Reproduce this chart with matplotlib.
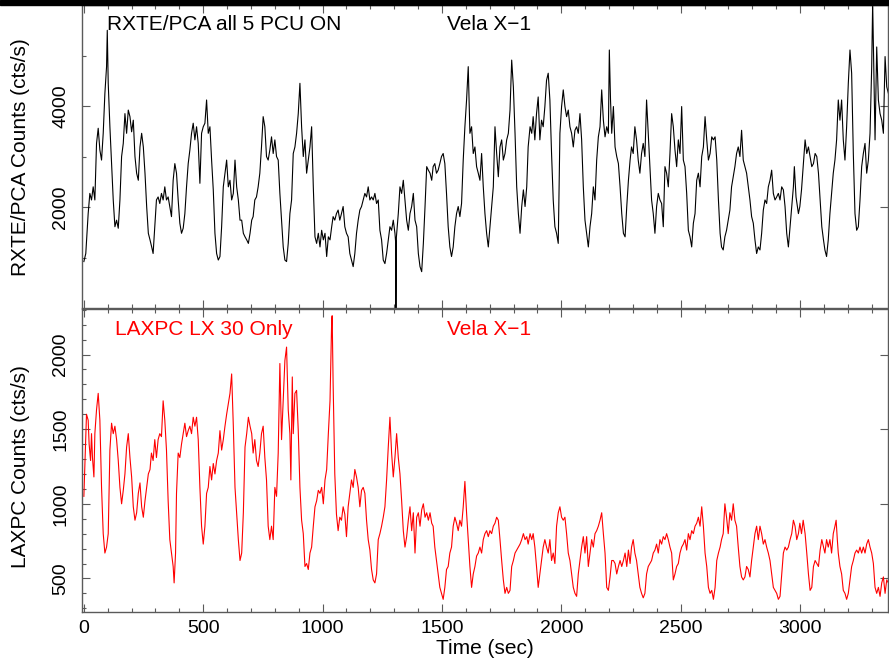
import matplotlib
matplotlib.use("Agg")
import matplotlib.pyplot as plt
from matplotlib.patches import Rectangle
from matplotlib.ticker import MultipleLocator, FixedLocator

plt.rcParams['font.family'] = ['Liberation Sans', 'DejaVu Sans']

# RXTE/PCA light curve (time in s, counts/s)
t_pca = [0, 8, 18, 25, 32, 39, 46, 53, 60, 67,
         74, 81, 88, 95, 98, 102, 109, 116, 123, 130,
         137, 144, 151, 158, 165, 172, 179, 186, 193, 200,
         207, 214, 221, 228, 235, 242, 249, 256, 263, 270,
         277, 284, 290, 297, 304, 311, 318, 325, 332, 339,
         346, 353, 360, 367, 374, 381, 388, 395, 402, 409,
         416, 423, 430, 437, 444, 451, 458, 465, 472, 479,
         486, 493, 500, 507, 514, 521, 528, 535, 542, 549,
         556, 563, 570, 577, 584, 591, 598, 605, 612, 619,
         626, 633, 640, 647, 654, 661, 668, 675, 682, 689,
         696, 703, 709, 716, 723, 730, 737, 744, 751, 758,
         765, 772, 779, 786, 793, 800, 807, 814, 821, 828,
         835, 842, 849, 856, 863, 870, 877, 884, 891, 898,
         905, 912, 919, 926, 933, 940, 947, 954, 961, 968,
         975, 982, 989, 996, 1003, 1010, 1017, 1024, 1031, 1038,
         1044, 1051, 1058, 1065, 1072, 1079, 1086, 1093, 1100, 1107,
         1114, 1121, 1128, 1135, 1142, 1149, 1156, 1163, 1170, 1177,
         1184, 1191, 1198, 1205, 1212, 1219, 1226, 1233, 1240, 1247,
         1254, 1261, 1268, 1275, 1282, 1289, 1296, 1303, 1306, 1307, 1309, 1317,
         1324, 1331, 1338, 1345, 1352, 1359, 1366, 1373, 1380, 1387,
         1394, 1401, 1408, 1415, 1422, 1429, 1436, 1443, 1450, 1457,
         1463, 1470, 1477, 1484, 1491, 1498, 1505, 1512, 1519, 1526,
         1533, 1540, 1547, 1554, 1561, 1568, 1575, 1582, 1589, 1596,
         1603, 1610, 1617, 1624, 1631, 1638, 1645, 1652, 1659, 1666,
         1673, 1680, 1687, 1694, 1701, 1708, 1715, 1722, 1729, 1736,
         1743, 1750, 1757, 1764, 1771, 1778, 1785, 1792, 1799, 1806,
         1813, 1820, 1827, 1834, 1841, 1848, 1855, 1861, 1869, 1876,
         1882, 1889, 1896, 1903, 1910, 1917, 1924, 1931, 1938, 1945,
         1952, 1959, 1966, 1973, 1980, 1987, 1994, 2001, 2008, 2015,
         2022, 2029, 2036, 2043, 2050, 2057, 2064, 2071,
         2078, 2085, 2092, 2099, 2106, 2113, 2120, 2127, 2134, 2141,
         2148, 2155, 2162, 2169, 2176, 2183, 2190, 2197, 2201, 2206,
         2211, 2218, 2225, 2232, 2239, 2246, 2253, 2260, 2267, 2274,
         2281, 2288, 2294, 2301, 2308, 2315, 2322, 2329, 2336, 2343,
         2350, 2357, 2364, 2371, 2378, 2385, 2392, 2399, 2406, 2413,
         2420, 2427, 2434, 2441, 2448, 2455, 2462, 2469, 2476, 2483,
         2490, 2497, 2504, 2511, 2518, 2525, 2532, 2539, 2546, 2553,
         2560, 2567, 2574, 2581, 2588, 2595, 2602, 2609, 2616, 2623,
         2630, 2637, 2644, 2651, 2658, 2665, 2671, 2678, 2685, 2692,
         2699, 2706, 2713, 2720, 2727, 2734, 2741, 2748, 2755, 2762,
         2769, 2776, 2783, 2790, 2797, 2804, 2811, 2818, 2825, 2832,
         2839, 2846, 2853, 2860, 2867, 2874, 2881, 2888, 2895, 2902,
         2909, 2916, 2923, 2930, 2937, 2944, 2951, 2958, 2965, 2972,
         2976, 2983, 2993, 2999, 3006, 3013, 3021, 3028, 3035, 3042,
         3049, 3056, 3063, 3070, 3077, 3084, 3091, 3098, 3104, 3111,
         3118, 3125, 3132, 3139, 3146, 3153, 3160, 3167, 3174, 3181,
         3188, 3195, 3202, 3209, 3216, 3223, 3230, 3237, 3244, 3251,
         3258, 3265, 3272, 3279, 3286, 3293, 3300, 3304, 3310, 3314,
         3321, 3328, 3335, 3342, 3349, 3356, 3363, 3370]
c_pca = [920, 1080, 1870, 2270, 2140, 2400, 2140, 3260, 3560, 3130,
         2930, 3460, 4250, 4780, 5500, 4450, 3590, 2860, 2140, 1610,
         1740, 1580, 2140, 3000, 3260, 3850, 3460, 3920, 3790, 3490,
         3720, 3000, 2670, 2530, 3190, 3460, 3190, 2670, 2010, 1480,
         1350, 1210, 1080, 1610, 2140, 2200, 2070, 2270, 2140, 2400,
         2140, 2200, 2010, 1810, 2530, 2860, 2670, 2140, 1680, 1480,
         1580, 1870, 2400, 2860, 3130, 3460, 3660, 3330, 3590, 3260,
         2470, 3460, 3590, 3660, 4120, 3460, 3590, 2930, 2340, 1480,
         1080, 950, 1020, 1610, 2400, 2670, 2930, 2400, 2530, 2140,
         2270, 2930, 2400, 2140, 1740, 1740, 1480, 1410, 1350, 1280,
         1480, 1740, 1810, 2140, 2200, 2400, 2670, 3190, 3790, 3590,
         3000, 2930, 3130, 3390, 3060, 3330, 3000, 2930, 2270, 1740,
         1210, 950, 920, 1280, 1870, 2140, 3060, 3190, 3460, 3850,
         4450, 3590, 3000, 3330, 2670, 2930, 3190, 3590, 2400, 1410,
         1280, 1480, 1210, 1540, 1350, 1480, 1020, 1410, 1350, 1610,
         1810, 1740, 1870, 1940, 1740, 1870, 2010, 1610, 1480, 1410,
         1080, 950, 820, 1080, 1480, 1740, 1940, 2010, 2140, 2270,
         2200, 2400, 2140, 2200, 2140, 2270, 2070, 2140, 1540, 1350,
         950, 880, 1080, 1350, 1610, 1540, 1740, 1480, 1300, 0, 1400, 1870,
         2400, 2270, 2530, 2140, 1740, 1540, 1870, 2010, 2270, 1740,
         1610, 1080, 820, 720, 1280, 2010, 2800, 2730, 2670, 2530,
         2800, 2860, 2670, 2730, 2860, 3000, 3060, 2860, 2270, 1610,
         1210, 1020, 1210, 1610, 1870, 2010, 1810, 2070, 2930, 3590,
         4120, 4780, 3460, 3590, 3060, 3190, 2800, 2670, 2530, 3060,
         2400, 1870, 1480, 1210, 1610, 2010, 2400, 3590, 3060, 2600,
         3190, 3330, 2930, 3060, 3330, 3460, 3920, 4910, 4380, 3460,
         2400, 1870, 1480, 2010, 2340, 2010, 2400, 3190, 3590, 3460,
         3790, 3330, 3850, 4180, 3330, 3720, 3590, 3990, 4510, 4650,
         4120, 3060, 2140, 1610, 1480, 1280, 3460, 3990, 4320, 3990,
         3790, 3920, 3590, 3460, 3190, 3520, 3590, 3460,
         3850, 3330, 2400, 1740, 1480, 1210, 1610, 1870, 2400, 2140,
         2930, 3390, 3590, 4320, 3720, 3390, 3590, 3460, 5110, 4120,
         3460, 3990, 3190, 3000, 2860, 2400, 1870, 1480, 1410, 2010,
         2530, 2930, 3190, 3060, 3590, 3330, 2930, 2670, 3060, 3260,
         3000, 4120, 3460, 2800, 2140, 1870, 1480, 2010, 2270, 2140,
         2070, 1610, 2800, 2670, 2400, 3060, 3850, 3590, 3130, 2800,
         3330, 3060, 3990, 2930, 2800, 2270, 1540, 1410, 1210, 1680,
         1870, 2530, 2670, 2400, 3000, 3190, 3790, 3330, 2930, 3060,
         3390, 3330, 3390, 2930, 2140, 1480, 1210, 1150, 1410, 1540,
         1740, 1940, 2400, 2600, 2800, 3060, 3190, 3000, 3520, 2930,
         2800, 2670, 2400, 2140, 1810, 1680, 1350, 1080, 1210, 1150,
         1480, 1940, 2140, 2070, 2400, 2530, 2730, 2270, 2140, 2200,
         2270, 2140, 2400, 2340, 2010, 1480, 1210, 1610, 2010, 2400,
         2800, 2200, 1870, 2010, 2340, 2800, 3330, 3060, 3190, 3000,
         2800, 2860, 3060, 3000, 2670, 2140, 1610, 1350, 1150, 1020,
         1350, 1870, 2270, 2670, 2930, 3330, 4120, 3720, 4120, 3330,
         2930, 3590, 4450, 5110, 4650, 3060, 1870, 1540, 1610, 2140,
         2800, 3060, 3260, 2670, 2930, 3460, 4780, 6050, 4450, 3330,
         5170, 4120, 3850, 3720, 3460, 4980, 4380, 4250]

# LAXPC LX30 light curve (time in s, counts/s)
t_lax = [0, 6, 11, 18, 22, 28, 32, 36, 42, 46,
         53, 60, 67, 74, 81, 88, 95, 102, 109, 116,
         123, 130, 137, 144, 151, 158, 165, 172, 179, 186,
         193, 200, 207, 214, 221, 228, 235, 242, 249, 256,
         263, 270, 277, 283, 290, 297, 304, 311, 318, 325,
         332, 339, 346, 353, 360, 367, 374, 378, 384, 388,
         395, 402, 409, 416, 423, 430, 437, 444, 451, 458,
         465, 472, 479, 486, 493, 500, 507, 514, 521, 528,
         535, 542, 549, 556, 563, 570, 577, 584, 591, 598,
         605, 612, 619, 626, 633, 640, 647, 654, 661, 668,
         675, 682, 689, 696, 703, 709, 716, 723, 730, 737,
         744, 751, 758, 765, 772, 779, 786, 793, 800, 807,
         814, 821,
         828, 835, 842, 849, 856, 863, 867, 873, 877, 884,
         891, 898, 905, 912, 919, 926, 933, 940, 947, 954,
         961, 968, 975, 982, 989, 996, 1003, 1010, 1017, 1024,
         1031, 1038, 1040, 1044, 1051, 1058, 1065, 1072, 1079, 1086,
         1093, 1100, 1107, 1114, 1121, 1128, 1135, 1142, 1149, 1156,
         1163, 1170, 1177, 1184, 1191, 1198, 1205, 1212, 1219, 1226,
         1233, 1240, 1247, 1254, 1261, 1268, 1275, 1282, 1289, 1296,
         1303, 1310, 1317, 1324, 1331, 1338, 1345, 1352, 1359, 1366,
         1373, 1380, 1387, 1394, 1401, 1408, 1415, 1422, 1429, 1436,
         1443, 1450, 1457, 1463, 1470, 1477, 1484, 1491, 1498, 1505,
         1512, 1519, 1526, 1533, 1540, 1547, 1554, 1561, 1568, 1575,
         1582, 1589, 1596, 1603, 1610, 1617, 1624, 1631, 1638, 1645,
         1652, 1659, 1666, 1673, 1680, 1687, 1694, 1701, 1708, 1715,
         1722, 1729, 1736, 1743, 1750, 1757, 1764, 1771, 1778, 1785,
         1792, 1799, 1806, 1813, 1820, 1827, 1834, 1841, 1848, 1855,
         1861, 1869, 1876, 1882, 1889, 1896, 1903, 1910, 1917, 1924,
         1931, 1938, 1945, 1952, 1959, 1966, 1973, 1980, 1987, 1994,
         2001, 2008, 2015, 2022, 2029, 2036, 2043, 2050, 2057, 2064,
         2071,
         2078, 2085, 2092, 2099, 2106, 2113, 2120, 2127, 2134, 2141,
         2148, 2155, 2162, 2169, 2176, 2183, 2190, 2197, 2204, 2211,
         2218, 2225, 2232, 2239, 2246, 2253, 2260, 2267, 2274, 2281,
         2288, 2294, 2301, 2308, 2315, 2322, 2329, 2336, 2343, 2350,
         2357, 2364, 2371, 2378, 2385, 2392, 2399, 2406, 2413, 2420,
         2427, 2434, 2441, 2448, 2455, 2462, 2469, 2476, 2483, 2490,
         2497, 2504, 2511, 2518, 2525, 2532, 2539, 2546, 2553, 2560,
         2567, 2574, 2581, 2588, 2595, 2602, 2609, 2616, 2623, 2630,
         2637, 2644, 2651, 2658, 2665, 2671, 2678, 2685, 2692, 2699,
         2706, 2713, 2720, 2727, 2734, 2741, 2748, 2755, 2762, 2769,
         2776, 2783, 2790, 2797, 2804, 2811, 2818, 2825, 2832, 2839,
         2846, 2853, 2860, 2867, 2874, 2881, 2888, 2895, 2902, 2909,
         2916, 2923, 2930, 2937, 2944, 2951, 2958, 2965, 2972, 2979,
         2986, 2993, 2999, 3006, 3013, 3021, 3028, 3035, 3042, 3049,
         3056, 3063, 3070, 3077, 3084, 3091, 3098, 3104, 3111, 3118,
         3125, 3132, 3139, 3146, 3151, 3156, 3160, 3167, 3174, 3181,
         3188, 3195, 3202, 3209, 3216, 3223, 3230, 3237, 3244, 3251,
         3258, 3265, 3272, 3279, 3286, 3293, 3300, 3307, 3314, 3321,
         3328, 3335, 3342, 3349, 3356, 3363, 3370]
c_lax = [1050, 1340, 1600, 1560, 1400, 1290, 1470, 1310, 1180, 1470,
         1630, 1740, 1560, 1110, 800, 670, 710, 800, 1360, 1540,
         1470, 1520, 1430, 1290, 1110, 1000, 1090, 1200, 1380, 1470,
         1310, 1180, 980, 890, 940, 1070, 1140, 980, 910, 1020,
         1110, 1200, 1230, 1340, 1290, 1430, 1310, 1430, 1470, 1450,
         1690, 1560, 1360, 1020, 760, 670, 580, 470, 670, 1070,
         1340, 1310, 1400, 1470, 1540, 1450, 1490, 1520, 1470, 1580,
         1520, 1580, 1430, 1110, 850, 730, 850, 1070, 1110, 1250,
         1160, 1270, 1200, 1290, 1340, 1490, 1360, 1430, 1520, 1600,
         1670, 1740, 1870, 1520, 1110, 940, 760, 620, 670, 940,
         1380, 1470, 1580, 1520, 1470, 1340, 1430, 1290, 1250, 1340,
         1470, 1520, 1310, 1160, 850, 760, 850, 760, 1110, 1050,
         1340, 1940,
         1430, 1690, 1960, 2050, 1630, 1470, 1160, 1850, 1470, 1740,
         1760, 1490, 1110, 890, 800, 580, 600, 560, 670, 710,
         850, 980, 1020, 1090, 1070, 1110, 1000, 1160, 1230, 1470,
         1690, 2230, 2260, 1810, 1200, 930, 820, 910, 890, 980,
         930, 780, 980, 1070, 1160, 1110, 1230, 1180, 1110, 980,
         1090, 1110, 1070, 890, 760, 690, 560, 490, 470, 530,
         760, 800, 850, 910, 980, 1160, 1380, 1580, 1340, 1180,
         1310, 1470, 1310, 1200, 1020, 820, 710, 780, 890, 980,
         820, 940, 670, 910, 940, 850, 960, 1000, 910, 940,
         890, 940, 870, 850, 710, 620, 530, 440, 400, 360,
         440, 560, 580, 670, 710, 850, 910, 870, 820, 890,
         850, 980, 1150, 940, 760, 580, 440, 530, 580, 650,
         670, 710, 670, 760, 800, 820, 780, 820, 800, 850,
         870, 910, 890, 760, 620, 490, 400, 440, 400, 420,
         580, 620, 670, 690, 710, 730, 760, 800, 760, 780,
         730, 800, 760, 800, 710, 580, 440, 530, 620, 710,
         760, 710, 670, 760, 620, 670, 600, 850, 940, 980,
         910, 890, 910, 800, 670, 620, 530, 440, 400, 380,
         530,
         620, 710, 780, 670, 780, 580, 670, 760, 710, 800,
         820, 850, 890, 940, 800, 670, 440, 420, 510, 620,
         620, 600, 530, 580, 620, 580, 620, 670, 580, 690,
         600, 710, 760, 670, 620, 530, 440, 400, 370, 400,
         530, 580, 600, 620, 670, 690, 730, 670, 760, 730,
         780, 760, 800, 760, 710, 670, 490, 530, 580, 600,
         670, 710, 730, 760, 690, 800, 760, 820, 800, 850,
         870, 910, 850, 980, 850, 670, 580, 440, 400, 420,
         360, 440, 620, 670, 710, 760, 800, 1000, 910, 800,
         940, 890, 1000, 890, 850, 710, 580, 510, 490, 510,
         580, 560, 510, 620, 710, 800, 850, 760, 850, 800,
         730, 760, 710, 670, 620, 530, 440, 420, 400, 360,
         380, 530, 670, 710, 690, 710, 760, 800, 890, 850,
         760, 800, 870, 800, 890, 800, 670, 530, 420, 440,
         580, 620, 600, 580, 690, 760, 710, 670, 760, 710,
         760, 670, 800, 850, 890, 760, 670, 580, 530, 420,
         400, 360, 400, 490, 580, 620, 670, 690, 670, 710,
         670, 710, 670, 730, 760, 710, 670, 600, 440, 400,
         440, 380, 470, 510, 400, 490, 470]

x_range = (-8, 3368)
pca_range = (0, 6000)
lax_range = (275, 2305)

frame = '#5a5a5a'

fig = plt.figure(figsize=(8.89, 6.64), dpi=100)
ax1 = fig.add_axes([0.0922, 0.5361, 0.9066, 0.4563])
ax2 = fig.add_axes([0.0922, 0.0783, 0.9066, 0.4563])

ax1.plot(t_pca, c_pca, color='black', lw=0.8)
ax2.plot(t_lax, c_lax, color='#ff0000', lw=0.8)

for ax in (ax1, ax2):
    ax.set_xlim(*x_range)
    ax.xaxis.set_major_locator(MultipleLocator(500))
    ax.xaxis.set_minor_locator(MultipleLocator(100))
    ax.tick_params(which='both', direction='in', top=True, right=True,
                   color=frame, width=0.8, labelsize=14)
    ax.tick_params(which='major', length=5.5)
    ax.tick_params(which='minor', length=2.8)
    ax.tick_params(axis='y', which='minor', right=False)
    ax.tick_params(axis='y', pad=9)
    for lab in ax.get_yticklabels():
        lab.set_rotation(90)
        lab.set_va('center')
    for s in ax.spines.values():
        s.set_color(frame)
        s.set_linewidth(1.0)

ax1.set_ylim(*pca_range)
ax1.yaxis.set_major_locator(FixedLocator([2000, 4000]))
ax1.yaxis.set_minor_locator(FixedLocator([1000, 3000, 5000]))
ax1.tick_params(axis='x', labelbottom=False)

ax2.set_ylim(*lax_range)
ax2.yaxis.set_major_locator(MultipleLocator(500))
ax2.yaxis.set_minor_locator(MultipleLocator(100))
ax2.tick_params(axis='x', pad=6)
ax2.set_xlabel('Time (sec)', fontsize=15, labelpad=1)

for ax in (ax1, ax2):
    for lab in ax.get_yticklabels():
        lab.set_rotation(90)
        lab.set_va('center')

ax1.text(0.031, 0.937, 'RXTE/PCA all 5 PCU ON', transform=ax1.transAxes,
         fontsize=15, va='center', ha='left', color='black')
ax1.text(0.453, 0.937, 'Vela X\u22121', transform=ax1.transAxes,
         fontsize=15, va='center', ha='left', color='black')
ax2.text(0.041, 0.931, 'LAXPC LX 30 Only', transform=ax2.transAxes,
         fontsize=15, va='center', ha='left', color='#ff0000')
ax2.text(0.453, 0.931, 'Vela X\u22121', transform=ax2.transAxes,
         fontsize=15, va='center', ha='left', color='#ff0000')

fig.text(0.0225, 0.7636, 'RXTE/PCA Counts (cts/s)', rotation=90,
         fontsize=15, ha='center', va='center')
fig.text(0.0225, 0.297, 'LAXPC Counts (cts/s)', rotation=90,
         fontsize=15, ha='center', va='center')

# dark strip along the top edge
fig.patches.append(Rectangle((0, 1 - 5 / 664), 1, 5 / 664,
                             transform=fig.transFigure, color='black', zorder=5))

fig.savefig('out.png', dpi=100)
